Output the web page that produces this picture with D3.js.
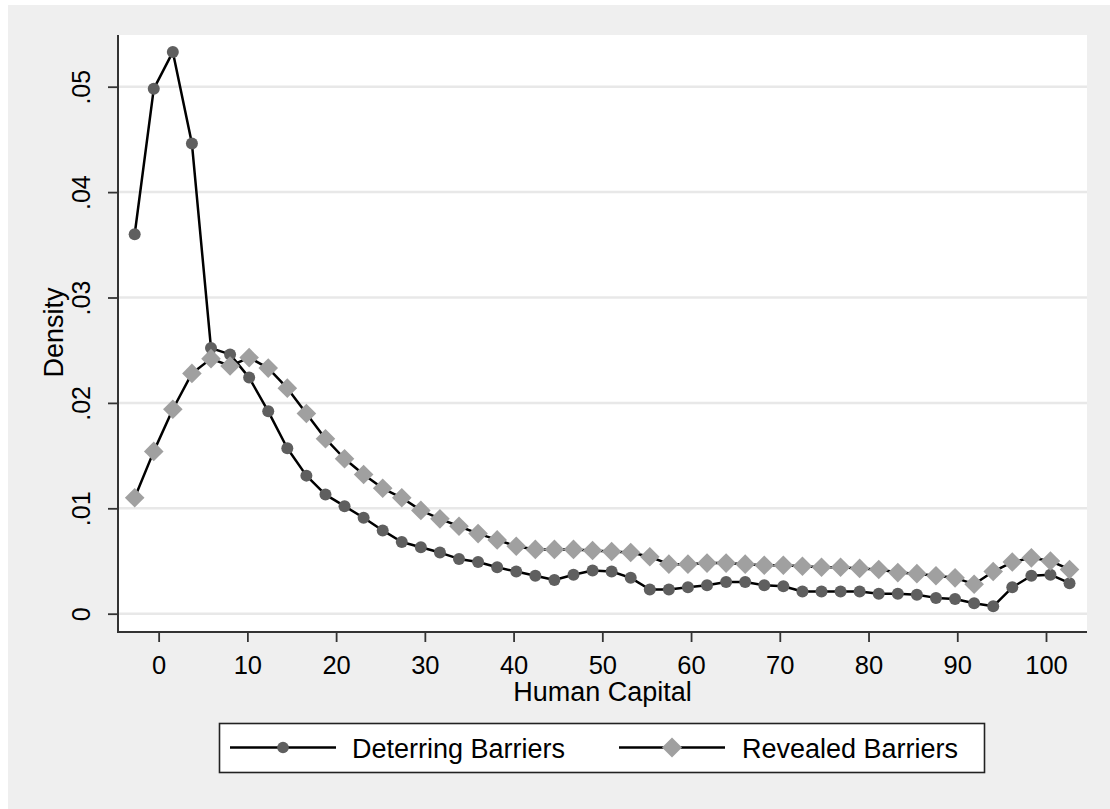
<!DOCTYPE html>
<html>
<head>
<meta charset="utf-8">
<script src="https://cdn.jsdelivr.net/npm/d3@7"></script>
<style>
  body { margin: 0; background: #fff; }
  text { font-family: "Liberation Sans", Arial, sans-serif; fill: #000; }
</style>
</head>
<body>
<svg id="chart" width="1110" height="809"></svg>
<script>
// evaluation points of the density (Human Capital)
var xGrid = [-2.70, -0.55, 1.60, 3.75, 5.90, 8.05, 10.20, 12.35, 14.50, 16.65,
             18.80, 20.95, 23.10, 25.25, 27.40, 29.55, 31.70, 33.85, 36.00, 38.15,
             40.30, 42.45, 44.60, 46.75, 48.90, 51.05, 53.20, 55.35, 57.50, 59.65,
             61.80, 63.95, 66.10, 68.25, 70.40, 72.55, 74.70, 76.85, 79.00, 81.15,
             83.30, 85.45, 87.60, 89.75, 91.90, 94.05, 96.20, 98.35, 100.50, 102.65];

var deterring = [0.0360, 0.0498, 0.0533, 0.0446, 0.0252, 0.0246, 0.0224, 0.0192, 0.0157, 0.0131,
                 0.0113, 0.0102, 0.0091, 0.0079, 0.0068, 0.0063, 0.0058, 0.0052, 0.0049, 0.0044,
                 0.0040, 0.0036, 0.0032, 0.0037, 0.0041, 0.0040, 0.0034, 0.0023, 0.0023, 0.0025,
                 0.0027, 0.0030, 0.0030, 0.0027, 0.0026, 0.0021, 0.0021, 0.0021, 0.0021, 0.0019,
                 0.0019, 0.0018, 0.0015, 0.0014, 0.0010, 0.0007, 0.0025, 0.0036, 0.0037, 0.0029];

var revealed = [0.0110, 0.0154, 0.0194, 0.0228, 0.0242, 0.0235, 0.0243, 0.0233, 0.0214, 0.0190,
                0.0166, 0.0147, 0.0132, 0.0119, 0.0110, 0.0098, 0.0090, 0.0083, 0.0076, 0.0070,
                0.0064, 0.0061, 0.0061, 0.0061, 0.0060, 0.0059, 0.0058, 0.0054, 0.0047, 0.0047,
                0.0048, 0.0048, 0.0047, 0.0046, 0.0046, 0.0045, 0.0044, 0.0044, 0.0043, 0.0042,
                0.0039, 0.0038, 0.0036, 0.0034, 0.0028, 0.0040, 0.0049, 0.0053, 0.0050, 0.0042];

var xTicks = [0, 10, 20, 30, 40, 50, 60, 70, 80, 90, 100];
var yTicks = [0, 0.01, 0.02, 0.03, 0.04, 0.05];
var seriesNames = ["Deterring Barriers", "Revealed Barriers"];

var plot = {left: 118, right: 1087, top: 35, bottom: 632};

var svg = d3.select("#chart");

// outer gray frame
svg.append("rect")
    .attr("x", 8).attr("y", 5)
    .attr("width", 1102).attr("height", 804)
    .attr("fill", "#efefef");

svg.append("rect")
    .attr("x", plot.left).attr("y", plot.top)
    .attr("width", plot.right - plot.left)
    .attr("height", plot.bottom - plot.top)
    .attr("fill", "#fff");

var x = d3.scaleLinear()
    .domain([-4.58, 104.62])
    .range([plot.left, plot.right]);

var y = d3.scaleLinear()
    .domain([0, 0.05])
    .range([613.7, 86.7]);

// gridlines
svg.selectAll(".grid")
    .data(yTicks)
  .enter().append("line")
    .attr("class", "grid")
    .attr("x1", plot.left).attr("x2", plot.right)
    .attr("y1", function(d) { return y(d); })
    .attr("y2", function(d) { return y(d); })
    .attr("stroke", "#e8e8e8")
    .attr("stroke-width", 2.5);

var fmtY = function(d) { return d === 0 ? "0" : d3.format(".2f")(d).replace(/^0/, ""); };

var xAxis = d3.axisBottom(x).tickValues(xTicks).tickSize(10).tickSizeOuter(0);
var yAxis = d3.axisLeft(y).tickValues(yTicks).tickSize(10).tickSizeOuter(0).tickFormat(fmtY);

var gx = svg.append("g")
    .attr("transform", "translate(0," + plot.bottom + ")")
    .call(xAxis);
gx.select(".domain").remove();
gx.selectAll("line").attr("stroke", "#333").attr("stroke-width", 1.8);
gx.selectAll("text")
    .attr("y", 42).attr("dy", null)
    .style("font-size", "25.5px")
    .style("font-family", "'Liberation Sans', Arial, sans-serif");

var gy = svg.append("g")
    .attr("transform", "translate(" + plot.left + ",0)")
    .call(yAxis);
gy.select(".domain").remove();
gy.selectAll("line").attr("stroke", "#333").attr("stroke-width", 1.8);
gy.selectAll("text")
    .attr("x", null).attr("dy", null)
    .attr("text-anchor", "middle")
    .attr("transform", "translate(-28,0) rotate(-90)")
    .style("font-size", "25px")
    .style("font-family", "'Liberation Sans', Arial, sans-serif");

// axis lines
svg.append("line")
    .attr("x1", plot.left).attr("x2", plot.left)
    .attr("y1", plot.top).attr("y2", plot.bottom)
    .attr("stroke", "#333").attr("stroke-width", 2);
svg.append("line")
    .attr("x1", plot.left - 1).attr("x2", plot.right)
    .attr("y1", plot.bottom).attr("y2", plot.bottom)
    .attr("stroke", "#333").attr("stroke-width", 2);

// axis titles
svg.append("text")
    .attr("x", (plot.left + plot.right) / 2)
    .attr("y", 701)
    .attr("text-anchor", "middle")
    .style("font-size", "27px")
    .text("Human Capital");

svg.append("text")
    .attr("transform", "translate(63," + ((plot.top + plot.bottom) / 2 - 1) + ") rotate(-90)")
    .attr("text-anchor", "middle")
    .style("font-size", "27px")
    .text("Density");

var line = d3.line()
    .x(function(d) { return x(d[0]); })
    .y(function(d) { return y(d[1]); });

var detData = xGrid.map(function(v, i) { return [v, deterring[i]]; });
var revData = xGrid.map(function(v, i) { return [v, revealed[i]]; });

var diamond = function(s) { return "M0," + (-s) + "L" + s + ",0L0," + s + "L" + (-s) + ",0Z"; };

svg.append("path")
    .datum(detData)
    .attr("d", line)
    .attr("fill", "none")
    .attr("stroke", "#000")
    .attr("stroke-width", 2.5)
    .attr("stroke-linejoin", "round");

svg.selectAll(".det")
    .data(detData)
  .enter().append("circle")
    .attr("class", "det")
    .attr("cx", function(d) { return x(d[0]); })
    .attr("cy", function(d) { return y(d[1]); })
    .attr("r", 6)
    .attr("fill", "#5f5f5f");

svg.append("path")
    .datum(revData)
    .attr("d", line)
    .attr("fill", "none")
    .attr("stroke", "#000")
    .attr("stroke-width", 2.5)
    .attr("stroke-linejoin", "round");

svg.selectAll(".rev")
    .data(revData)
  .enter().append("path")
    .attr("class", "rev")
    .attr("transform", function(d) { return "translate(" + x(d[0]) + "," + y(d[1]) + ")"; })
    .attr("d", diamond(9.8))
    .attr("fill", "#a0a0a0");

// legend
var legend = svg.append("g");
legend.append("rect")
    .attr("x", 219.5).attr("y", 723.5)
    .attr("width", 765).attr("height", 49)
    .attr("fill", "#fff")
    .attr("stroke", "#222")
    .attr("stroke-width", 1.6);

var items = [
  {name: seriesNames[0], x0: 230, x1: 336, tx: 352, shape: "circle"},
  {name: seriesNames[1], x0: 619, x1: 725, tx: 742, shape: "diamond"}
];
var ly = 747.5;
items.forEach(function(it) {
  legend.append("line")
      .attr("x1", it.x0).attr("x2", it.x1)
      .attr("y1", ly).attr("y2", ly)
      .attr("stroke", "#000").attr("stroke-width", 2.5);
  var cx = (it.x0 + it.x1) / 2;
  if (it.shape === "circle") {
    legend.append("circle").attr("cx", cx).attr("cy", ly).attr("r", 5.8).attr("fill", "#5f5f5f");
  } else {
    legend.append("path").attr("transform", "translate(" + cx + "," + ly + ")")
        .attr("d", diamond(10)).attr("fill", "#a0a0a0");
  }
  legend.append("text")
      .attr("x", it.tx).attr("y", 757.5)
      .style("font-size", "27px")
      .text(it.name);
});
</script>
</body>
</html>
